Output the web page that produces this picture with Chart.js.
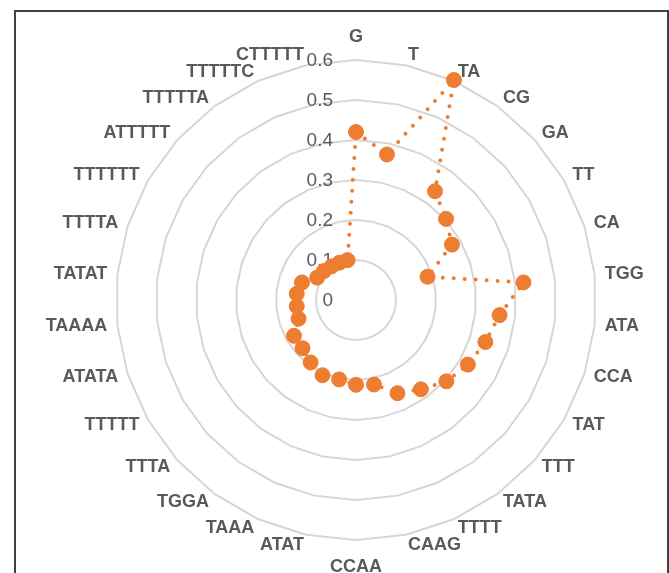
<!DOCTYPE html>
<html>
<head>
<meta charset="utf-8">
<script src="https://cdn.jsdelivr.net/npm/chart.js@4.4.1/dist/chart.umd.min.js"></script>
<style>
  html, body { margin: 0; padding: 0; background: #fff; }
  #wrap { position: relative; width: 669px; height: 573px; overflow: hidden; }
  #frame { position: absolute; left: 14px; top: 10px; width: 651px; height: 600px; border: 2px solid #404040; pointer-events: none; }
</style>
</head>
<body>
<div id="wrap">
  <canvas id="grafico" width="669" height="573"></canvas>
  <div id="frame"></div>
</div>
<script>
// categorias (no sentido horario a partir do topo)
const categorias = ["G", "T", "TA", "CG", "GA", "TT", "CA", "TGG", "ATA", "CCA",
  "TAT", "TTT", "TATA", "TTTT", "CAAG", "CCAA", "ATAT", "TAAA", "TGGA", "TTTA",
  "TTTTT", "ATATA", "TAAAA", "TATAT", "TTTTA", "TTTTTT", "ATTTTT", "TTTTTA", "TTTTTC", "CTTTTT"];
const valores = [0.42, 0.372, 0.602, 0.336, 0.303, 0.277, 0.188, 0.421, 0.361, 0.34,
  0.323, 0.304, 0.276, 0.255, 0.216, 0.212, 0.203, 0.206, 0.193, 0.18,
  0.179, 0.151, 0.149, 0.149, 0.142, 0.112, 0.108, 0.104, 0.102, 0.102];
const escalaMin = 0;
const escalaMax = 0.6;
const passo = 0.1;

const laranja = '#ED7D31';
const cinzaTexto = '#595959';
const fonte = '"Liberation Sans", Arial, sans-serif';

// rotulos da escala (a esquerda do eixo) e das categorias (estilo Excel)
const rotulos = {
  id: 'rotulos',
  beforeDatasetsDraw(chart) {
    const r = chart.scales.r;
    const ctx = chart.ctx;
    ctx.save();
    ctx.fillStyle = cinzaTexto;

    ctx.font = '19px ' + fonte;
    ctx.textAlign = 'right';
    ctx.textBaseline = 'middle';
    r.ticks.forEach(t => {
      const d = r.getDistanceFromCenterForValue(t.value);
      ctx.fillText(t.label, r.xCenter - 23, r.yCenter - d + 1);
    });

    ctx.font = 'bold 18px ' + fonte;
    chart.data.labels.forEach((lab, i) => {
      const p = r.getPointPosition(i, r.drawingArea + 10);
      const dx = p.x - r.xCenter;
      if (Math.abs(dx) < 2) {
        ctx.textAlign = 'center';
        ctx.textBaseline = 'alphabetic';
        const y = p.y < r.yCenter ? p.y - 8 : p.y + 22;
        ctx.fillText(lab, p.x, y);
      } else {
        ctx.textAlign = dx > 0 ? 'left' : 'right';
        ctx.textBaseline = 'middle';
        ctx.fillText(lab, p.x, p.y);
      }
    });
    ctx.restore();
  }
};

new Chart(document.getElementById('grafico'), {
  type: 'radar',
  data: {
    labels: categorias,
    datasets: [{
      data: valores,
      borderColor: laranja,
      borderWidth: 4,
      borderDash: [0, 11],
      borderCapStyle: 'round',
      backgroundColor: 'transparent',
      fill: false,
      pointRadius: 7.5,
      pointBackgroundColor: laranja,
      pointBorderColor: laranja,
      pointBorderWidth: 1,
      tension: 0
    }]
  },
  options: {
    responsive: false,
    animation: false,
    layout: { padding: { top: 60, left: 44, right: 0, bottom: 33 } },
    plugins: { legend: { display: false }, tooltip: { enabled: false } },
    scales: {
      r: {
        min: escalaMin,
        max: escalaMax,
        ticks: { stepSize: passo, display: false },
        grid: { color: '#d6d6d6', lineWidth: 2 },
        angleLines: { display: false },
        pointLabels: { display: false }
      }
    }
  },
  plugins: [rotulos]
});
</script>
</body>
</html>
